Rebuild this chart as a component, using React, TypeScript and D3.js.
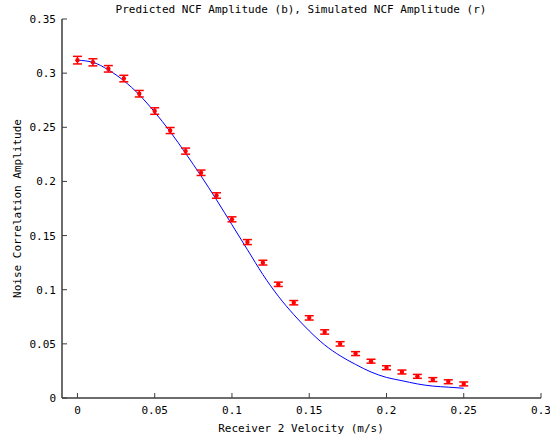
import React from "react";
import { scaleLinear, line, curveMonotoneX } from "d3";

const width = 550;
const height = 443;
const margin = { top: 19, right: 9, bottom: 45, left: 62 };

const velocities = [
  0, 0.01, 0.02, 0.03, 0.04, 0.05, 0.06, 0.07, 0.08, 0.09, 0.1, 0.11, 0.12,
  0.13, 0.14, 0.15, 0.16, 0.17, 0.18, 0.19, 0.2, 0.21, 0.22, 0.23, 0.24, 0.25,
];
const simulated = [
  0.312, 0.31, 0.304, 0.295, 0.281, 0.265, 0.247, 0.228, 0.208, 0.187, 0.165,
  0.144, 0.125, 0.105, 0.088, 0.074, 0.061, 0.05, 0.041, 0.034, 0.028, 0.024,
  0.02, 0.017, 0.015, 0.013,
];
const simErr = [
  0.0035, 0.0033, 0.003, 0.003, 0.003, 0.003, 0.0028, 0.0028, 0.0025, 0.0025,
  0.0023, 0.0023, 0.0022, 0.002, 0.002, 0.002, 0.002, 0.002, 0.0018, 0.0018,
  0.0018, 0.0018, 0.0018, 0.0018, 0.0018, 0.0018,
];
const predicted = [
  0.312, 0.31, 0.303, 0.293, 0.28, 0.264, 0.246, 0.226, 0.205, 0.183, 0.16,
  0.137, 0.114, 0.094, 0.077, 0.062, 0.049, 0.039, 0.031, 0.024, 0.019, 0.016,
  0.013, 0.011, 0.01, 0.009,
];
const xTicks = [0, 0.05, 0.1, 0.15, 0.2, 0.25, 0.3];
const yTicks = [0, 0.05, 0.1, 0.15, 0.2, 0.25, 0.3, 0.35];

const font = "'DejaVu Sans Mono', monospace";
const axisColor = "#3c3c3c";

export default function App() {
  const x = scaleLinear()
    .domain([-0.01, 0.3])
    .range([margin.left, width - margin.right]);
  const y = scaleLinear()
    .domain([0, 0.35])
    .range([height - margin.bottom, margin.top]);

  const predLine = line<number>()
    .x((_, i) => x(velocities[i]))
    .y((d) => y(d))
    .curve(curveMonotoneX)(predicted);

  const bottom = y(0);
  const fmt = (v: number) => String(v);

  return (
    <svg
      width={width}
      height={height}
      style={{ position: "absolute", left: 0, top: 0, background: "#fff" }}
      fontFamily={font}
      fontSize={11}
    >
      <text x={301} y={13} textAnchor="middle" fill="#000">
        Predicted NCF Amplitude (b), Simulated NCF Amplitude (r)
      </text>

      {/* axes */}
      <line x1={margin.left} x2={margin.left} y1={y(0.35)} y2={bottom} stroke={axisColor} strokeWidth={1.5} />
      <line x1={margin.left} x2={x(0.3)} y1={bottom} y2={bottom} stroke={axisColor} strokeWidth={1.5} />

      {yTicks.map((t) => (
        <g key={"y" + t}>
          <line x1={margin.left} x2={margin.left + 5} y1={y(t)} y2={y(t)} stroke={axisColor} />
          <text x={56} y={y(t) + 4} textAnchor="end" fill="#000">
            {fmt(t)}
          </text>
        </g>
      ))}
      {xTicks.map((t) => (
        <g key={"x" + t}>
          <line x1={x(t)} x2={x(t)} y1={bottom} y2={bottom - 5} stroke={axisColor} />
          <text x={x(t)} y={414} textAnchor="middle" fill="#000">
            {fmt(t)}
          </text>
        </g>
      ))}

      <text x={301} y={432} textAnchor="middle" fill="#000">
        Receiver 2 Velocity (m/s)
      </text>
      <text
        transform={`translate(21, ${(y(0) + y(0.35)) / 2}) rotate(-90)`}
        textAnchor="middle"
        fill="#000"
      >
        Noise Correlation Amplitude
      </text>

      <path d={predLine ?? ""} fill="none" stroke="#0000ff" strokeWidth={1} />

      {simulated.map((v, i) => {
        const cx = x(velocities[i]);
        const lo = y(v - simErr[i]);
        const hi = y(v + simErr[i]);
        return (
          <g key={"s" + i} stroke="#ff0000" strokeWidth={1.5}>
            <line x1={cx} x2={cx} y1={lo} y2={hi} />
            <line x1={cx - 4.5} x2={cx + 4.5} y1={lo} y2={lo} />
            <line x1={cx - 4.5} x2={cx + 4.5} y1={hi} y2={hi} />
            <circle cx={cx} cy={y(v)} r={2.2} fill="#ff0000" stroke="none" />
          </g>
        );
      })}
    </svg>
  );
}
